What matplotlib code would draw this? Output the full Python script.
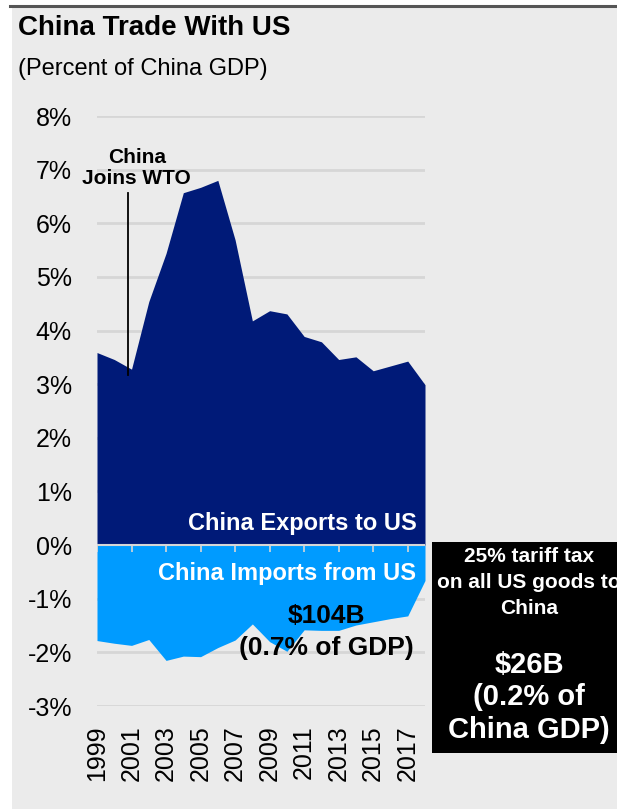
import numpy as np
import matplotlib.pyplot as plt
from matplotlib.patches import Rectangle
from matplotlib.lines import Line2D

plt.rcParams['font.family'] = ['Liberation Sans', 'DejaVu Sans']

# data (percent of China GDP)
years = list(range(1999, 2019))
exports = [3.59, 3.46, 3.28, 4.54, 5.44, 6.57, 6.67, 6.80, 5.69, 4.18,
           4.37, 4.31, 3.89, 3.79, 3.46, 3.51, 3.25, 3.34, 3.43, 2.99]
imports = [-1.78, -1.83, -1.87, -1.76, -2.15, -2.07, -2.08, -1.91, -1.77, -1.47,
           -1.80, -1.98, -1.58, -1.59, -1.59, -1.49, -1.43, -1.37, -1.32, -0.66]
yticks = list(range(-3, 9))
xticks = years[::2]
wto_year = 2000.8

NAVY = '#001a78'
LIGHT = '#009bff'
BG = '#ebebeb'
GRID = '#d6d6d6'

W, H = 617, 809
fig = plt.figure(figsize=(W / 100, H / 100), dpi=100)
fig.patch.set_facecolor('white')


def fx(px):
    return px / W


def fy(py):
    return 1 - py / H


# gray panel + dark top rule
fig.patches.append(Rectangle((fx(12), 0), 1, fy(6), transform=fig.transFigure,
                             facecolor=BG, edgecolor='none', zorder=-2))
fig.lines.append(Line2D([fx(10), 1], [fy(6), fy(6)], transform=fig.transFigure,
                        color='#555555', lw=2.2, zorder=-1))

ax = fig.add_axes([fx(97), fy(706), fx(425) - fx(97), fy(116) - fy(706)])
ax.set_facecolor(BG)

ax.fill_between(years, exports, 0, color=NAVY, lw=0, zorder=2)
ax.fill_between(years, imports, 0, color=LIGHT, lw=0, zorder=2)

ax.set_xlim(1999, 2018)
ax.set_ylim(-3, 8)
ax.set_yticks(yticks)
ax.set_yticklabels([f'{v}%' for v in yticks], fontsize=18)
ax.set_xticks(xticks)
ax.set_xticklabels([str(y) for y in xticks], fontsize=18, rotation=90)
ax.tick_params(axis='both', length=0)
ax.tick_params(axis='y', pad=18)
ax.tick_params(axis='x', pad=14)
ax.yaxis.grid(True, color=GRID, lw=2)
ax.set_axisbelow(True)
for s in ax.spines.values():
    s.set_visible(False)

# zero line and small ticks
ax.axhline(0, color=GRID, lw=1.5, zorder=3)
ax.vlines(xticks, -0.13, 0, color=GRID, lw=1.2, zorder=3)

# WTO annotation
ax.plot([wto_year, wto_year], [3.17, 6.57], color='black', lw=1.3, zorder=4)
ax.text(2001.3, 7.03, 'China\nJoins WTO', ha='center', va='center',
        fontsize=15, fontweight='bold', linespacing=1.15, zorder=5)

ax.text(2017.5, 0.4, 'China Exports to US', ha='right', va='center',
        color='white', fontsize=17, fontweight='bold', zorder=5)
ax.text(2017.5, -0.53, 'China Imports from US', ha='right', va='center',
        color='white', fontsize=17, fontweight='bold', zorder=5)
ax.text(2012.3, -1.32, '$104B', ha='center', va='center',
        fontsize=19, fontweight='bold', zorder=5)
ax.text(2012.3, -1.92, '(0.7% of GDP)', ha='center', va='center',
        fontsize=19, fontweight='bold', zorder=5)

fig.text(fx(18), fy(35), 'China Trade With US', fontsize=20, fontweight='bold',
         va='baseline')
fig.text(fx(18), fy(75), '(Percent of China GDP)', fontsize=17, va='baseline')

# black tariff box
fig.patches.append(Rectangle((fx(432), fy(753)), fx(200), fy(542) - fy(753),
                             transform=fig.transFigure, facecolor='black',
                             edgecolor='none', zorder=5))
box_lines = [('25% tariff tax', 557, 15), ('on all US goods to', 582, 15),
             ('China', 608, 15), ('$26B', 665, 21), ('(0.2% of', 697, 21),
             ('China GDP)', 730, 21)]
for txt, py, fs in box_lines:
    fig.text(fx(529), fy(py), txt, ha='center', va='center', color='white',
             fontsize=fs, fontweight='bold', zorder=6)

fig.savefig('out.png', dpi=100)
